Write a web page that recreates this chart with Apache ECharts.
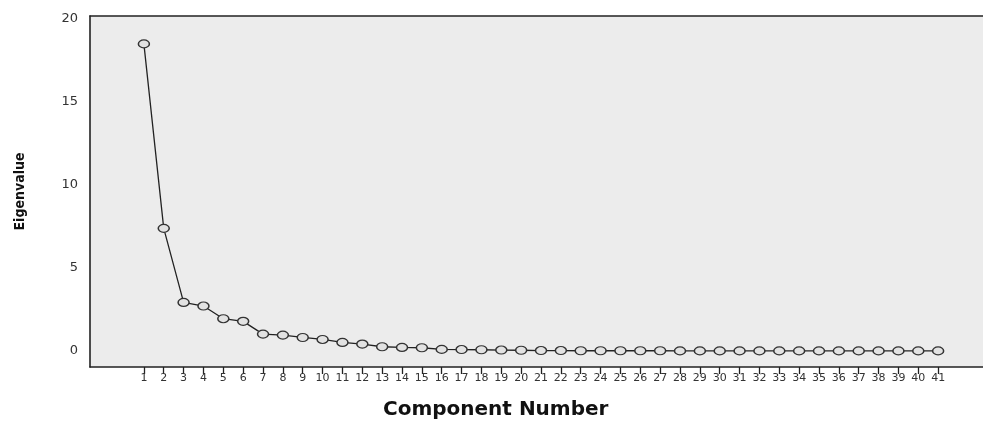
<!DOCTYPE html>
<html>
<head>
<meta charset="utf-8">
<script src="https://cdn.jsdelivr.net/npm/echarts@6/dist/echarts.min.js"></script>
<style>html,body{margin:0;padding:0;background:#fff;}#c{width:983px;height:421px;}</style>
</head>
<body>
<div id="c"></div>
<script>
var components = [1,2,3,4,5,6,7,8,9,10,11,12,13,14,15,16,17,18,19,20,21,22,23,24,25,26,27,28,29,30,31,32,33,34,35,36,37,38,39,40,41];
var eigenvalues = [18.5,7.39,2.93,2.71,1.95,1.79,1.02,0.96,0.82,0.70,0.52,0.42,0.26,0.22,0.20,0.10,0.09,0.08,0.06,0.05,0.03,0.03,0.02,0.02,0.02,0.02,0.02,0.01,0.01,0.01,0.01,0.01,0.01,0.01,0.01,0.01,0.01,0.01,0.01,0.01,0.01];
var yTicks = [0,5,10,15,20];
var xTitle = 'Component Number';
var yTitle = 'Eigenvalue';

var chart = echarts.init(document.getElementById('c'));
var xMin = -1.714, xMax = 43.26;
chart.setOption({
  animation: false,
  title: {
    text: xTitle, left: 378, top: 395,
    textStyle: {fontFamily: 'DejaVu Sans', fontWeight: 'bold', fontSize: 20, color: '#111'}
  },
  grid: {left: 90, right: -2, top: 16, bottom: 54, show: true, backgroundColor: '#ececec', borderWidth: 0},
  xAxis: [{
    type: 'value', min: xMin, max: xMax,
    splitLine: {show: false},
    axisLine: {show: true, onZero: false, lineStyle: {color: '#222', width: 1.6}},
    axisTick: {show: true, length: 7, lineStyle: {color: '#222', width: 1.3}, customValues: components},
    axisLabel: {customValues: components, color: '#333', fontFamily: 'DejaVu Sans', fontSize: 11, margin: 6, hideOverlap: false}
  }, {
    type: 'value', position: 'top', min: xMin, max: xMax,
    splitLine: {show: false}, axisTick: {show: false}, axisLabel: {show: false},
    axisLine: {show: true, onZero: false, lineStyle: {color: '#222', width: 1.6}}
  }],
  yAxis: {
    type: 'value', min: -0.96, max: 20.18,
    name: yTitle, nameLocation: 'middle', nameRotate: 90, nameGap: 63,
    nameTextStyle: {fontFamily: 'Liberation Sans Narrow, DejaVu Sans Condensed, sans-serif', fontWeight: 'bold', fontSize: 14, color: '#111'},
    splitLine: {show: false},
    axisLine: {show: true, onZero: false, lineStyle: {color: '#222', width: 1.6}},
    axisTick: {show: false},
    axisLabel: {customValues: yTicks, color: '#333', fontFamily: 'DejaVu Sans', fontSize: 13, margin: 12}
  },
  series: [{
    type: 'line',
    data: components.map(function (c, i) { return [c, eigenvalues[i]]; }),
    symbol: 'circle', symbolSize: [11, 8],
    lineStyle: {color: '#222', width: 1.3},
    itemStyle: {color: '#e2e2e2', borderColor: '#333', borderWidth: 1.3}
  }]
});
</script>
</body>
</html>
